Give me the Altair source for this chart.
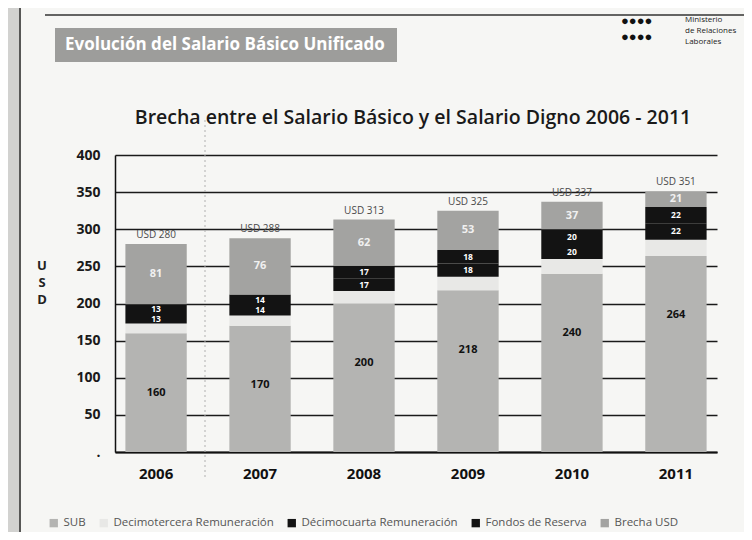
import altair as alt
import pandas as pd

# ---- data ----
years = ["2006", "2007", "2008", "2009", "2010", "2011"]
sub = [160, 170, 200, 218, 240, 264]
decimo_tercera = [13, 14, 17, 18, 20, 22]
decimo_cuarta = [13, 14, 17, 18, 20, 22]
fondos_reserva = [13, 14, 17, 18, 20, 22]
brecha = [81, 76, 62, 53, 37, 21]
totales = [280, 288, 313, 325, 337, 351]

series_names = ["SUB", "Decimotercera Remuneración", "Décimocuarta Remuneración",
                "Fondos de Reserva", "Brecha USD"]
series_colors = ["#b4b4b2", "#e8e8e6", "#131313", "#131313", "#a3a3a1"]
label_colors = ["#111111", "#e8e8e6", "#ffffff", "#ffffff", "#f0f0f0"]
label_sizes = [11, 8.5, 8.5, 8.5, 11]
label_shown = [True, False, True, True, True]

y_ticks = [0, 50, 100, 150, 200, 250, 300, 350, 400]

title_text = "Brecha entre el Salario Básico y el Salario Digno 2006 - 2011"
banner_text = "Evolución del Salario Básico Unificado"
axis_letters = "U\nS\nD"
logo_lines = ["Ministerio", "de Relaciones", "Laborales"]

FONT = "Open Sans"

rows = []
for i, yr in enumerate(years):
    vals = [sub[i], decimo_tercera[i], decimo_cuarta[i], fondos_reserva[i], brecha[i]]
    for k, (name, v) in enumerate(zip(series_names, vals)):
        rows.append({"year": yr, "serie": name, "orden": k, "valor": v,
                     "lblcol": label_colors[k], "lblsize": label_sizes[k],
                     "shown": label_shown[k]})
df = pd.DataFrame(rows)
tot = pd.DataFrame({"year": years, "total": totales,
                    "txt": [f"USD {t}" for t in totales]})
one = pd.DataFrame({"k": [0]})

x_scale = alt.Scale(paddingInner=0.41, paddingOuter=0.1)
y_scale = alt.Scale(domain=[0, 400])
x_axis = alt.Axis(labelFontSize=15, labelFontWeight="bold", labelColor="#111",
                  labelPadding=14, ticks=False, domainColor="#111",
                  domainWidth=2, labelAngle=0, labelFont=FONT, grid=False)
y_axis = alt.Axis(values=y_ticks, grid=True, gridColor="#1a1a1a", gridWidth=1.5,
                  ticks=False, domainColor="#111", domainWidth=1.5,
                  labelFontSize=14, labelFontWeight="bold", labelColor="#1a1a1a",
                  labelPadding=15, labelFont=FONT, labelOverlap=False,
                  labelExpr="datum.value == 0 ? '.' : datum.label")

bars = alt.Chart(df).mark_bar().encode(
    x=alt.X("year:N", title=None, sort=years, scale=x_scale, axis=x_axis),
    y=alt.Y("valor:Q", stack="zero", scale=y_scale, title=None, axis=y_axis),
    color=alt.Color("serie:N", sort=series_names,
                    scale=alt.Scale(domain=series_names, range=series_colors),
                    legend=alt.Legend(title=None, orient="none", legendX=-67, legendY=362,
                                      direction="horizontal", symbolType="square",
                                      symbolSize=70, symbolStrokeWidth=0,
                                      labelFontSize=11.5, labelColor="#555",
                                      labelLimit=0, labelFont=FONT, columnPadding=12)),
    order=alt.Order("orden:Q"),
)

seg_labels = alt.Chart(df).transform_stack(
    stack="valor", groupby=["year"], sort=[alt.SortField("orden")], as_=["v0", "v1"]
).transform_filter("datum.shown").transform_calculate(
    pos="datum.orden == 0 ? datum.v1 - 80 : (datum.v0 + datum.v1) / 2"
).mark_text(fontWeight="bold", font=FONT).encode(
    x=alt.X("year:N", title=None, sort=years, scale=x_scale, axis=x_axis),
    y=alt.Y("pos:Q", title=None, scale=y_scale, axis=y_axis),
    text="valor:Q",
    size=alt.Size("lblsize:Q", scale=None, legend=None),
    color=alt.Color("lblcol:N", scale=None),
)

top_labels = alt.Chart(tot).mark_text(
    dy=-4, fontSize=10, color="#4a4a4a", baseline="bottom", font=FONT
).encode(x=alt.X("year:N", title=None, sort=years, scale=x_scale, axis=x_axis),
         y=alt.Y("total:Q", title=None, scale=y_scale, axis=y_axis), text="txt:N")

# ---- decorations of the slide ----
left_strip = alt.Chart(one).mark_rect(color="#d2d2d0").encode(
    x=alt.value(-107), x2=alt.value(-96), y=alt.value(-147), y2=alt.value(377))
frame_v = alt.Chart(one).mark_rule(color="#222", strokeWidth=1.5).encode(
    x=alt.value(-95), y=alt.value(-147), y2=alt.value(377))
frame_h = alt.Chart(one).mark_rule(color="#333", strokeWidth=1.5).encode(
    x=alt.value(-70), x2=alt.value(629), y=alt.value(-140))
fold = alt.Chart(one).mark_rule(color="#b0b0b0", strokeWidth=1, strokeDash=[2, 3]).encode(
    x=alt.value(90), y=alt.value(-35), y2=alt.value(325))

banner = alt.Chart(one).mark_rect(color="#9d9d9b").encode(
    x=alt.value(-60), x2=alt.value(282), y=alt.value(-127), y2=alt.value(-93))
banner_t = alt.Chart(pd.DataFrame({"t": [banner_text]})).mark_text(
    align="left", baseline="middle", fontSize=17, fontWeight="bold", color="white", font=FONT
).encode(text="t:N", x=alt.value(-50), y=alt.value(-110))

logo_dots1 = alt.Chart(pd.DataFrame({"t": ["●●●●"]})).mark_text(
    align="left", baseline="middle", fontSize=13, color="#111"
).encode(text="t:N", x=alt.value(506), y=alt.value(-134))
logo_dots2 = alt.Chart(pd.DataFrame({"t": ["●●●●"]})).mark_text(
    align="left", baseline="middle", fontSize=13, color="#111"
).encode(text="t:N", x=alt.value(506), y=alt.value(-118))
logo_txt = alt.Chart(pd.DataFrame({"t": ["\n".join(logo_lines)]})).mark_text(
    align="left", baseline="top", fontSize=8, color="#222", lineBreak="\n", lineHeight=11,
    font=FONT
).encode(text="t:N", x=alt.value(570), y=alt.value(-139))

title_t = alt.Chart(pd.DataFrame({"t": [title_text]})).mark_text(
    align="center", baseline="middle", fontSize=19.5, fontWeight=600, color="#1a1a1a",
    font=FONT
).encode(text="t:N", x=alt.value(298), y=alt.value(-37))

usd_letters = alt.Chart(pd.DataFrame({"t": [axis_letters]})).mark_text(
    align="center", baseline="top", fontSize=13, fontWeight="bold", color="#222",
    lineBreak="\n", lineHeight=17, font=FONT
).encode(text="t:N", x=alt.value(-73), y=alt.value(105))

chart = alt.layer(
    left_strip, frame_v, frame_h, fold, banner, banner_t, logo_dots1, logo_dots2, logo_txt,
    title_t, usd_letters, bars, seg_labels, top_labels
).properties(
    width=602, height=297,
    autosize=alt.AutoSizeParams(type="none"),
    padding={"left": 107, "top": 147, "right": 27, "bottom": 80},
).configure(background="#f6f6f4").configure_view(stroke=None)

chart.save("out.html", embed_options={"renderer": "svg", "actions": False})
